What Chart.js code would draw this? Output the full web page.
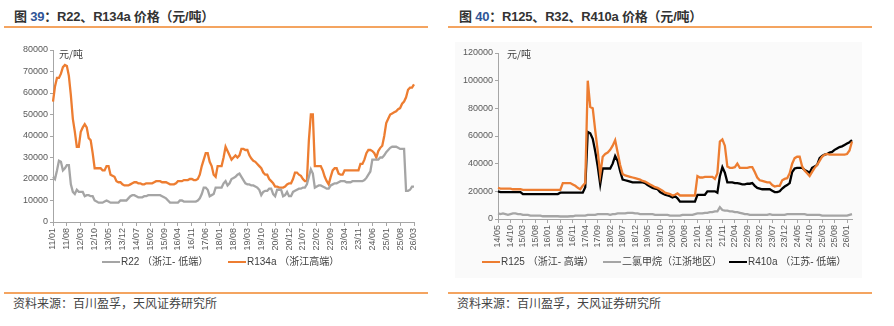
<!DOCTYPE html>
<html lang="zh">
<head>
  <meta charset="UTF-8">
  <title>制冷剂价格</title>
  <style>
    html, body { margin: 0; padding: 0; width: 894px; height: 326px; background: #fff; overflow: hidden; }
    body { position: relative; font-family: "Liberation Sans", "Noto Sans CJK SC", sans-serif; }
    .title { position: absolute; top: 6px; font-size: 13px; font-weight: bold; color: #333; font-family: "Liberation Sans", "Noto Sans CJK SC", sans-serif; white-space: nowrap; letter-spacing: -0.2px; }
    .title .no { color: #2F5597; }
    .rule { position: absolute; height: 2px; background: #F4A460; }
    .box { position: absolute; }
    .unit { position: absolute; font-size: 10px; color: #404040; font-family: "Noto Sans CJK SC", sans-serif; }
    .source { position: absolute; top: 294px; font-size: 12px; color: #444; font-family: "Noto Sans CJK SC", sans-serif; white-space: nowrap; }
    .legend { position: absolute; top: 255px; font-size: 10px; color: #404040; font-family: "Liberation Sans", "Noto Sans CJK SC", sans-serif; white-space: nowrap; }
    .legend .item { position: absolute; top: 0; line-height: 14px; }
    .legend .mark { display: inline-block; width: 18px; height: 2px; vertical-align: middle; margin-right: 1px; }
    #bgRight { position: absolute; left: 455px; top: 42px; width: 407px; height: 236px; background: #fafafa; }
  </style>
</head>
<body>
  <!-- left panel -->
  <div class="title" style="left:14px;">图 <span class="no">39</span>：R22、R134a 价格（元/吨）</div>
  <div class="rule" style="left:4px; top:26px; width:424px;"></div>
  <div class="box" style="left:0; top:40px; width:430px; height:220px;"><canvas id="chartLeft"></canvas></div>
  <div class="unit" style="left:59px; top:46px;">元/吨</div>
  <div class="legend">
    <span class="item" style="left:102px;"><span class="mark" style="background:#A5A5A5"></span>R22 （浙江- 低端）</span>
    <span class="item" style="left:228px;"><span class="mark" style="background:#ED7D31"></span>R134a （浙江高端）</span>
  </div>
  <div class="rule" style="left:4px; top:292px; width:424px;"></div>
  <div class="source" style="left:13px;">资料来源：百川盈孚，天风证券研究所</div>

  <!-- right panel -->
  <div id="bgRight"></div>
  <div class="title" style="left:459px;">图 <span class="no">40</span>：R125、R32、R410a 价格（元/吨）</div>
  <div class="rule" style="left:448px; top:26px; width:424px;"></div>
  <div class="box" style="left:445px; top:40px; width:430px; height:220px;"><canvas id="chartRight"></canvas></div>
  <div class="unit" style="left:507px; top:46px;">元/吨</div>
  <div class="legend">
    <span class="item" style="left:482px;"><span class="mark" style="background:#ED7D31"></span>R125 （浙江- 高端）</span>
    <span class="item" style="left:603px;"><span class="mark" style="background:#A5A5A5"></span>二氯甲烷（江浙地区）</span>
    <span class="item" style="left:729px;"><span class="mark" style="background:#000"></span>R410a （江苏- 低端）</span>
  </div>
  <div class="rule" style="left:448px; top:292px; width:424px;"></div>
  <div class="source" style="left:457px;">资料来源：百川盈孚，天风证券研究所</div>

  <script src="https://cdn.jsdelivr.net/npm/chart.js"></script>
  <script>
    // ---- left chart: monthly, 2011/01 .. 2026/03 ----
    var LEFT_START = [2011, 1];
    var LEFT_TICK_EVERY = 7;

    var r22 = [
      21000,20000,24000,28500,28000,24000,25000,26500,26500,17500,
      14000,13000,15000,14000,14000,14000,12000,12500,12500,12000,
      12000,10000,9500,9000,9000,9000,9500,10000,9500,9000,
      9000,9000,9000,9000,10000,10000,10000,10000,11000,12000,
      12500,12500,12000,11500,11500,11500,12000,12000,12500,12500,
      12500,12500,12500,12500,12500,12000,11500,11000,10000,9000,
      9000,9000,9000,9000,10000,10000,9500,9500,9500,9500,
      9500,9500,9500,10000,11000,13000,16000,16000,15000,12000,
      12500,13000,16000,16000,16000,16000,18000,19000,17000,18000,
      20000,20500,21000,22000,22500,21000,19500,18000,17500,17500,
      17000,17000,16500,16000,15000,12500,14000,14500,14500,15500,
      15500,13000,12000,15000,15000,15000,12000,12500,14000,12000,
      12000,14000,14500,15000,15500,15500,16000,16000,17500,21000,
      24500,22500,16000,16500,17000,17000,16500,16000,15500,15500,
      17000,17500,18000,18000,18500,19000,19000,19000,18500,18500,
      18500,19000,19000,19000,19000,19000,19000,19500,20500,22000,
      23500,29000,29000,29000,29000,30000,30000,31000,32500,33500,
      34500,35000,35000,35000,34500,34000,34000,34000,14500,14500,
      15000,16500,16500
    ];

    var r134a = [
      56000,63000,67000,67000,69000,72000,73000,72500,68000,59000,
      48000,42000,35000,35000,42000,44000,45500,44000,39000,38000,
      32000,25000,25000,25000,25000,24000,24000,26000,26000,22000,
      21500,21000,19000,18500,18500,17500,17000,17000,17000,17500,
      18000,18500,18500,18000,18000,17500,17500,18000,18000,18000,
      18000,18500,19000,19000,19000,18500,18500,18500,18000,17500,
      17500,17500,18000,19000,19000,19000,19500,19500,19500,20000,
      20000,19500,19500,20000,22000,26000,29000,32000,32000,28000,
      26000,22000,21000,26000,26000,26000,30000,35000,33000,31000,
      29000,30000,31000,30000,31000,34000,34000,33500,33500,31000,
      29500,28500,28000,27000,26000,25000,23000,22000,22000,20000,
      19000,18000,16500,16500,16000,16000,16000,16500,17500,18000,
      18000,20000,23000,23000,22000,21500,20000,19000,19000,38000,
      50000,50000,26000,26000,26000,26000,24000,21000,19000,17500,
      21000,24000,25000,25000,22500,22000,22000,24000,24000,24000,
      24000,24000,24000,24000,24000,27000,27000,29000,32000,33500,
      33500,33000,32000,30000,33000,34500,35500,40000,46000,48000,
      50000,50500,51000,51500,52500,53000,55000,56000,58000,61500,
      62500,62500,64000
    ];

    // ---- right chart: monthly, 2014/05 .. 2026/03 ----
    var RIGHT_START = [2014, 5];
    var RIGHT_TICK_EVERY = 5;

    var r125 = [
      22500,22000,22000,22000,22000,22000,21500,21500,21500,21500,
      21000,21000,21000,21000,21000,21000,21000,21000,21000,21000,
      21000,21000,21000,21000,21000,21000,26000,26000,26000,26000,
      25000,24000,22500,21500,24000,26000,100000,81000,80000,64000,
      49000,32000,45000,47000,48000,50000,53000,57000,48000,39000,
      32500,31500,31000,30500,30000,29500,29000,28500,27500,27000,
      26000,25000,24000,23000,22500,21500,20500,19000,18500,18000,
      17000,17500,18500,17000,17000,17000,17000,17000,17000,17000,
      31000,30000,30000,30500,30500,30500,30500,29000,33000,56000,
      57500,53000,38000,37000,37000,37500,40000,37000,37000,37000,
      37000,37500,37500,34000,30000,28000,27500,27000,26500,26500,
      24500,23500,24000,24000,28000,29000,29500,33000,40000,44000,
      45000,45000,38000,35000,33000,31000,34000,37000,39000,42000,
      45000,46500,47000,46500,46500,46500,46500,46500,46500,46500,
      47000,49500,56000
    ];

    var dcm = [
      4000,3500,4000,3500,3000,3500,4000,4000,3500,3500,
      3000,3000,3000,2500,2500,2500,2500,2500,2000,2000,
      2000,2000,2000,2000,2000,1800,1800,1800,1800,2000,
      2000,2500,2500,2500,2500,2500,3000,3000,3000,3000,
      3500,3500,3500,3500,3500,3000,3500,3500,4000,4000,
      4000,4000,4500,4500,4500,4000,4000,3500,3500,3500,
      3500,3500,3500,3000,3000,3000,3000,3000,3000,2500,
      2500,2500,2500,2500,3000,3000,3000,3000,3000,3500,
      4000,4000,4000,4500,4500,5000,5000,5500,5500,8500,
      6500,6000,6000,5500,5500,5000,5000,4500,4000,3500,
      3500,3000,3000,3000,3000,3000,3000,3000,3000,3500,
      3000,3000,3000,3000,3000,3000,3500,3500,3500,3500,
      3500,3500,3500,3500,3000,3000,3000,3000,3000,3000,
      2500,2500,2500,2500,2500,2500,2500,2500,2500,2500,
      2500,3000,3500
    ];

    var r410a = [
      20000,19500,19500,19500,19500,19500,19500,19500,19500,19500,
      18000,18000,18000,18000,18000,18000,18000,18000,18000,18000,
      18000,18000,18000,18000,18000,19000,19000,19000,19000,19000,
      19000,19000,19000,19000,19000,23000,63000,62000,58000,49000,
      38000,25000,36500,36500,36500,36500,40000,45500,42000,34500,
      28500,28000,27500,27000,26500,26500,26500,26500,26500,26000,
      24500,23500,22500,22000,21500,19500,18500,17500,17000,16500,
      15500,16500,15000,12500,12500,12500,12500,12500,12500,12500,
      17500,17500,17500,17500,20000,20000,20000,20000,19000,31000,
      37500,33500,26500,26500,26500,26000,26000,25500,25000,25000,
      25500,25500,26000,24000,22500,22000,21500,21500,21500,21500,
      20500,19500,19500,20000,22000,23500,24500,26000,34000,36500,
      37000,37000,37000,35500,34500,33500,37000,38000,39000,44000,
      45500,46500,47000,48000,48500,50000,51000,52000,52500,53500,
      54500,55500,57000
    ];

    /* Build "YY/MM" month labels */
    function monthLabels(start, count) {
      var labels = [];
      var y = start[0], m = start[1];
      for (var i = 0; i < count; i++) {
        labels.push(String(y % 100).padStart(2, "0") + "/" + String(m).padStart(2, "0"));
        m++;
        if (m > 12) { m = 1; y++; }
      }
      return labels;
    }

    var AXIS_COLOR = "#A6A6A6";
    var TICK_FONT = { family: "Liberation Sans, Arial, sans-serif", size: 9 };

    function lineSet(data, color) {
      return {
        data: data,
        borderColor: color,
        backgroundColor: color,
        borderWidth: 2.3,
        pointRadius: 0,
        tension: 0,
        fill: false
      };
    }

    /* Create one chart */
    function makeChart(canvasId, labels, datasets, opt) {
      return new Chart(document.getElementById(canvasId), {
        type: "line",
        data: { labels: labels, datasets: datasets },
        options: {
          responsive: true,
          maintainAspectRatio: false,
          animation: false,
          layout: { padding: { top: opt.top, right: opt.right, left: 0, bottom: 0 } },
          plugins: { legend: { display: false }, tooltip: { enabled: false } },
          scales: {
            x: {
              grid: { display: true, drawOnChartArea: false, drawTicks: true, tickLength: 4, color: AXIS_COLOR },
              border: { color: AXIS_COLOR, width: 1 },
              ticks: {
                autoSkip: false, maxRotation: 90, minRotation: 90, padding: 2,
                color: "#595959", font: TICK_FONT,
                callback: function(value, index) {
                  return index % opt.every === 0 ? this.getLabelForValue(value) : null;
                }
              },
              afterFit: function(scale) { scale.height = opt.xHeight; }
            },
            y: {
              min: 0, max: opt.max,
              grid: { display: true, drawOnChartArea: false, drawTicks: true, tickLength: 3, color: AXIS_COLOR },
              border: { color: AXIS_COLOR, width: 1 },
              ticks: {
                stepSize: opt.step, padding: 2, color: "#595959", font: TICK_FONT,
                callback: function(value) { return String(value); }
              },
              afterFit: function(scale) { scale.width = 53; }
            }
          }
        }
      });
    }

    makeChart("chartLeft", monthLabels(LEFT_START, r134a.length), [
      lineSet(r22, "#A5A5A5"),
      lineSet(r134a, "#ED7D31")
    ], { top: 10, right: 16, xHeight: 38, max: 80000, step: 10000, every: LEFT_TICK_EVERY });

    makeChart("chartRight", monthLabels(RIGHT_START, r125.length), [
      lineSet(dcm, "#A5A5A5"),
      lineSet(r125, "#ED7D31"),
      lineSet(r410a, "#000000")
    ], { top: 13, right: 23, xHeight: 41, max: 120000, step: 20000, every: RIGHT_TICK_EVERY });
  </script>
</body>
</html>
